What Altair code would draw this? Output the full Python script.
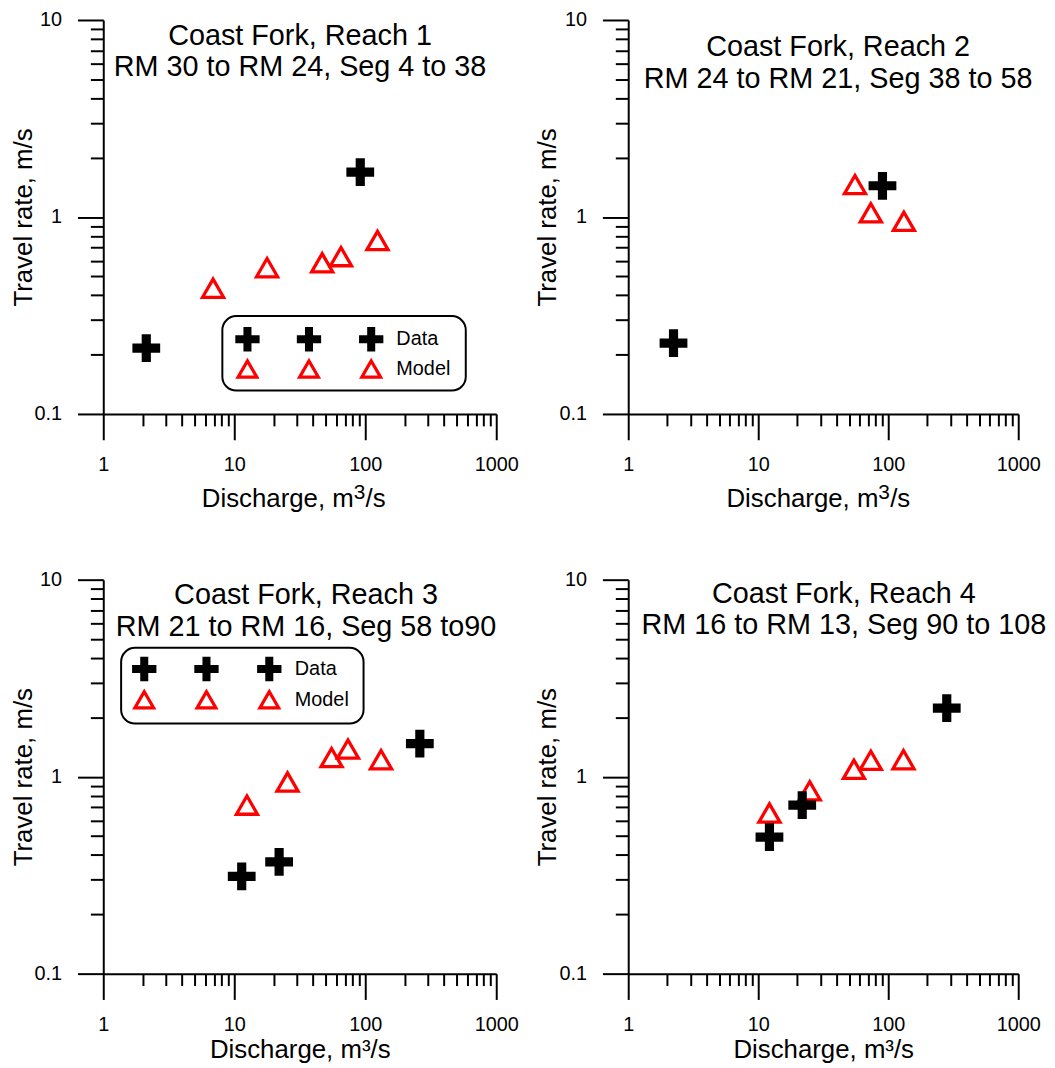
import altair as alt
import pandas as pd

FONT = "Liberation Sans"

# ---- data (Discharge m3/s, Travel rate m/s) ----
p1_data_q = [2.13, 91.6]
p1_data_v = [0.216, 1.69]
p1_model_q = [6.89, 17.8, 46.9, 65.3, 124.0]
p1_model_v = [0.435, 0.553, 0.586, 0.629, 0.760]

p2_data_q = [2.23, 90.3]
p2_data_v = [0.229, 1.44]
p2_model_q = [55.5, 73.5, 132.0]
p2_model_v = [1.46, 1.05, 0.951]

p3_data_q = [11.4, 22.0, 261.0]
p3_data_v = [0.312, 0.369, 1.47]
p3_model_q = [12.5, 25.5, 55.3, 73.8, 132.0]
p3_model_v = [0.717, 0.94, 1.25, 1.38, 1.22]

p4_data_q = [12.2, 21.8, 282.0]
p4_data_v = [0.493, 0.717, 2.23]
p4_model_q = [12.2, 24.9, 54.5, 73.5, 131.0]
p4_model_v = [0.654, 0.847, 1.09, 1.21, 1.22]

titles = [
    ("Coast Fork, Reach 1", "RM 30 to RM 24, Seg 4 to 38"),
    ("Coast Fork, Reach 2", "RM 24 to RM 21, Seg 38 to 58"),
    ("Coast Fork, Reach 3", "RM 21 to RM 16, Seg 58 to90"),
    ("Coast Fork, Reach 4", "RM 16 to RM 13, Seg 90 to 108"),
]
legend_labels = ["Data", "Model"]
x_title_plain = "Discharge, m³/s"
x_title_parts = ("Discharge, m", "3", "/s")
y_title = "Travel rate, m/s"

x_major = [1, 10, 100, 1000]
x_minor = [2, 3, 4, 5, 6, 7, 8, 9,
           20, 30, 40, 50, 60, 70, 80, 90,
           200, 300, 400, 500, 600, 700, 800, 900]
y_major = [0.1, 1, 10]
y_minor = [0.2, 0.3, 0.4, 0.5, 0.6, 0.7, 0.8, 0.9,
           2, 3, 4, 5, 6, 7, 8, 9]

LABEL_EXPR = "'' + datum.value"
PLUS = "M-1,-0.33H-0.33V-1H0.33V-0.33H1V0.33H0.33V1H-0.33V0.33H-1Z"
PANEL_H = 397

COMMON = dict(domainColor="black", domainWidth=2, tickColor="black",
              tickWidth=2, grid=False)


def x_axis_major(title_pad, with_title):
    kw = dict(
        orient="bottom", values=x_major, labelExpr=LABEL_EXPR, tickSize=26,
        labelFlush=False, labelOverlap=False, labelPadding=15,
        labelFontSize=20, labelFont=FONT, labelColor="black", **COMMON,
    )
    if with_title:
        kw.update(title=x_title_plain, titleFontSize=26, titleFont=FONT,
                  titleFontWeight="normal", titleColor="black",
                  titlePadding=title_pad)
    else:
        kw.update(title=None)
    return alt.Axis(**kw)


def x_axis_minor():
    return alt.Axis(orient="bottom", values=x_minor, tickSize=12,
                    labels=False, title=None, domain=False,
                    tickColor="black", tickWidth=2, grid=False)


def y_axis_major():
    return alt.Axis(
        orient="left", values=y_major, labelExpr=LABEL_EXPR, tickSize=26,
        labelFlush=False, labelOverlap=False, labelPadding=16,
        labelFontSize=20, labelFont=FONT, labelColor="black",
        title=y_title, titleFontSize=26, titleFont=FONT,
        titleFontWeight="normal", titleColor="black", titlePadding=-2,
        **COMMON,
    )


def y_axis_minor():
    return alt.Axis(orient="left", values=y_minor, tickSize=13,
                    labels=False, title=None, domain=False,
                    tickColor="black", tickWidth=2, grid=False)


def text_layer(one, text, x, y, size, align="left", baseline="alphabetic"):
    return alt.Chart(one).mark_text(
        text=text, font=FONT, fontSize=size, align=align,
        baseline=baseline, color="black",
    ).encode(x=alt.value(x), y=alt.value(y))


def panel(dq, dv, mq, mv, title_pair, tx, ty, width, xpad,
          legend=None, sup_title=None):
    xs = alt.Scale(type="log", domain=[1, 1000], nice=False)
    ys = alt.Scale(type="log", domain=[0.1, 10], nice=False)

    model = alt.Chart(pd.DataFrame({"Q": mq, "V": mv})).mark_point(
        shape="triangle-up", filled=False, color="#ff0000", strokeWidth=3.3,
        size=450, opacity=1,
    ).encode(
        x=alt.X("Q:Q", scale=xs, axis=x_axis_major(xpad, sup_title is None)),
        y=alt.Y("V:Q", scale=ys, axis=y_axis_major()),
    )
    data = alt.Chart(pd.DataFrame({"Q": dq, "V": dv})).mark_point(
        shape=PLUS, filled=True, color="black", strokeWidth=0, size=784,
        opacity=1,
    ).encode(
        x=alt.X("Q:Q", scale=xs, axis=x_axis_minor()),
        y=alt.Y("V:Q", scale=ys, axis=y_axis_minor()),
    )

    layers = [model, data]
    one = pd.DataFrame({"k": [0]})
    for text, yy in zip(title_pair, ty):
        layers.append(text_layer(one, text, tx, yy, 29, align="center"))

    if sup_title is not None:
        x0, base = sup_title
        layers.append(text_layer(one, x_title_parts[0], x0, base, 26))
        layers.append(text_layer(one, x_title_parts[1], x0 + 153, base - 8, 21))
        layers.append(text_layer(one, x_title_parts[2], x0 + 165, base, 26))

    if legend is not None:
        (rx1, rx2, ry1, ry2), mxs, rows, textx = legend
        layers.append(
            alt.Chart(one).mark_rect(
                cornerRadius=14, stroke="black", strokeWidth=2, fill="white",
            ).encode(x=alt.value(rx1), x2=alt.value(rx2),
                     y=alt.value(ry1), y2=alt.value(ry2))
        )
        for mx in mxs:
            layers.append(
                alt.Chart(one).mark_point(
                    shape=PLUS, filled=True, color="black", strokeWidth=0,
                    size=600, opacity=1,
                ).encode(x=alt.value(mx), y=alt.value(rows[0]))
            )
            layers.append(
                alt.Chart(one).mark_point(
                    shape="triangle-up", filled=False, color="#ff0000",
                    strokeWidth=3.2, size=360, opacity=1,
                ).encode(x=alt.value(mx), y=alt.value(rows[1]))
            )
        for lab, yy in zip(legend_labels, rows):
            layers.append(text_layer(one, lab, textx, yy, 20,
                                     baseline="middle"))

    return alt.layer(*layers).resolve_axis(
        x="independent", y="independent"
    ).properties(width=width, height=PANEL_H)


p1 = panel(p1_data_q, p1_data_v, p1_model_q, p1_model_v, titles[0],
           198.3, (25.4, 56.7), 396, 10,
           legend=((120, 365.3, 298.4, 373.4), (145.3, 207.3, 270.0),
                   (321.7, 351.7), 295.3),
           sup_title=(99.3, 490.7))
p2 = panel(p2_data_q, p2_data_v, p2_model_q, p2_model_v, titles[1],
           211.5, (36.7, 68.7), 393, 10,
           sup_title=(99.0, 490.7))
p3 = panel(p3_data_q, p3_data_v, p3_model_q, p3_model_v, titles[2],
           204.3, (25.0, 56.7), 396, 3,
           legend=((18, 262.3, 68.7, 145.0), (41.3, 104.0, 167.3),
                   (90.0, 121.0), 193.0))
p4 = panel(p4_data_q, p4_data_v, p4_model_q, p4_model_v, titles[3],
           217.3, (23.4, 54.4), 393, 3)

chart = alt.vconcat(
    alt.hconcat(p1, p2, spacing=15),
    alt.hconcat(p3, p4, spacing=15),
    spacing=56,
).properties(
    padding={"left": 1, "top": -3, "right": 0, "bottom": 0},
    background="white",
).configure_view(stroke="transparent")

chart.save("out.html", embed_options={"renderer": "svg", "actions": False})
